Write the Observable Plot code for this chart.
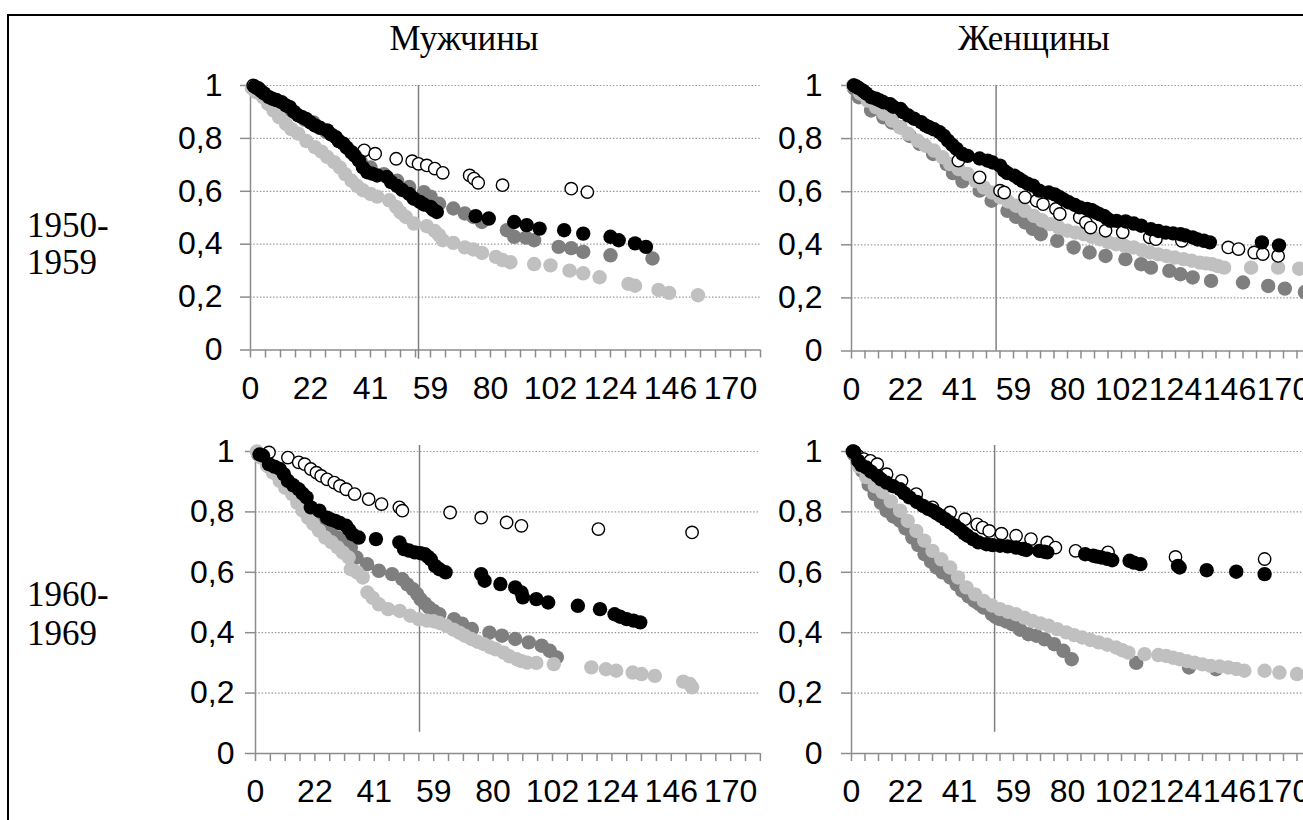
<!DOCTYPE html>
<html>
<head>
<meta charset="utf-8">
<script src="https://cdn.jsdelivr.net/npm/d3@7"></script>
<script src="https://cdn.jsdelivr.net/npm/@observablehq/plot@0.6"></script>
<style>
  html, body { margin: 0; padding: 0; background: #fff; }
  body { width: 1303px; height: 820px; overflow: hidden; position: relative; }
  .frame { position: absolute; left: 7px; top: 14px; width: 1400px; height: 900px;
           border-left: 2px solid #000; border-top: 2px solid #000; }
  .serif { position: absolute; font-family: "Liberation Serif", "Times New Roman", serif;
           font-size: 35px; color: #000; white-space: nowrap; }
  .panel { position: absolute; }
  .panel svg { max-width: none !important; display: block; }
</style>
</head>
<body>
<div class="frame"></div>
<script>
// ---------- axis categories ----------
const tickLabels = [0, 22, 41, 59, 80, 102, 124, 146, 170];
const xLast = 182;                       // value at the last minor tick of the category axis
const yTicks = [0, 0.2, 0.4, 0.6, 0.8, 1];

const columnTitles = ["Мужчины", "Женщины"];
const rowTitles = [["1950-", "1959"], ["1960-", "1969"]];

// ---------- data: [month, share] ----------
// Men 1950-1959
const m50Black = [[1.5,0.996],[2.5,0.99],[3.8,0.98],[5,0.97],[6.8,0.956],[8,0.95],[9.5,0.945],[11.4,0.937],[13,0.925],[14.4,0.918],[16,0.9],[17.5,0.887],[19,0.88],[20.4,0.874],[22,0.86],[23.4,0.849],[25,0.84],[27.3,0.83],[28.5,0.815],[30,0.805],[31,0.79],[32.4,0.78],[33.5,0.765],[35,0.748],[36,0.735],[37.3,0.717],[38.6,0.69],[40,0.672],[41.5,0.667],[43,0.66],[45.9,0.654],[47.2,0.635],[49,0.62],[50.5,0.605],[52.6,0.59],[54,0.572],[55.8,0.56],[57,0.55],[59,0.541],[60,0.53],[61.2,0.522],[74.8,0.506],[79.4,0.497],[88.7,0.484],[93.3,0.472],[98,0.459],[107,0.453],[114,0.44],[124,0.428],[127,0.415],[133,0.403],[137,0.39]];
const m50Open = [[1,1],[3,0.99],[39,0.755],[42.4,0.742],[48.7,0.723],[53.5,0.714],[55.4,0.704],[57.9,0.698],[60.5,0.686],[63.3,0.67],[72.7,0.66],[74.2,0.648],[75.7,0.632],[84.4,0.623],[109.6,0.61],[115.5,0.597]];
const m50Dark = [[1,0.99],[5,0.965],[10,0.94],[15,0.905],[20,0.87],[23,0.86],[27,0.825],[31,0.79],[35,0.745],[38,0.71],[41,0.69],[45,0.665],[49,0.64],[52.6,0.616],[57,0.597],[59,0.58],[62,0.553],[67,0.535],[71,0.516],[74,0.503],[77,0.484],[86,0.453],[88.7,0.428],[93,0.425],[96,0.415],[105,0.39],[109.6,0.385],[114,0.371],[124,0.358],[139.4,0.346]];
const m50Light = [[0.5,0.99],[2,0.975],[4.6,0.956],[6.5,0.93],[8.4,0.906],[10.5,0.88],[13,0.855],[15,0.835],[17.5,0.818],[20.5,0.79],[23.4,0.767],[25.5,0.75],[27.3,0.73],[29.5,0.71],[31.3,0.69],[33,0.665],[35,0.64],[36.8,0.62],[38.6,0.604],[41,0.59],[43,0.58],[46.6,0.566],[48.7,0.541],[50,0.52],[51.6,0.503],[54,0.478],[57.9,0.468],[60.5,0.45],[62,0.434],[63.3,0.415],[67,0.405],[71,0.388],[74,0.38],[77,0.367],[82,0.352],[84.4,0.34],[87.3,0.332],[96,0.325],[102,0.32],[109,0.3],[114,0.29],[120,0.275],[130.6,0.25],[133,0.243],[141.6,0.227],[145.5,0.216],[157,0.207]];

// Women 1950-1959
const f50Black = [[1,1],[2,0.996],[3,0.99],[4.7,0.98],[6,0.97],[8,0.956],[10,0.95],[11.5,0.944],[13,0.937],[15.7,0.93],[17,0.92],[19.9,0.912],[21,0.9],[23,0.887],[25,0.875],[27.5,0.862],[29,0.85],[30.3,0.843],[32,0.835],[34,0.824],[35.5,0.81],[37,0.792],[38.5,0.776],[40,0.761],[42,0.742],[43.7,0.735],[47.7,0.725],[50.4,0.717],[52,0.71],[54.5,0.698],[55.9,0.679],[57,0.67],[59.4,0.66],[61,0.65],[62.6,0.64],[64.5,0.63],[66.6,0.623],[69,0.604],[72.7,0.597],[75,0.59],[77,0.579],[78.5,0.57],[80.5,0.56],[83,0.55],[85,0.541],[88,0.535],[90,0.53],[91.5,0.522],[93,0.515],[94.8,0.509],[96,0.5],[97.5,0.49],[100,0.49],[103.7,0.488],[107,0.48],[110,0.472],[114,0.459],[117,0.452],[120,0.446],[123,0.443],[126,0.44],[128,0.435],[131,0.428],[133,0.42],[135.6,0.415],[138,0.409],[160.4,0.409],[168,0.398]];
const f50Open = [[1,1],[40.6,0.717],[47.7,0.654],[54.5,0.604],[55.9,0.597],[63.5,0.579],[68,0.566],[70.5,0.553],[75.5,0.535],[77,0.516],[85,0.503],[87.5,0.484],[89.4,0.465],[95.5,0.453],[102.5,0.447],[113.5,0.428],[116,0.421],[126.6,0.415],[145.5,0.39],[150,0.384],[157,0.371],[160.8,0.365],[167.6,0.358]];
const f50Dark = [[1,0.99],[3,0.956],[8,0.906],[13,0.88],[16.5,0.86],[19.9,0.843],[23.5,0.81],[27,0.78],[31.7,0.742],[36.5,0.704],[38.7,0.67],[42,0.639],[47.7,0.604],[51.7,0.566],[57,0.528],[60,0.505],[63.5,0.484],[66.5,0.46],[69.6,0.44],[76,0.415],[82.5,0.39],[89,0.371],[95.5,0.358],[103.6,0.346],[110,0.327],[114,0.314],[121.5,0.302],[126,0.289],[131,0.277],[138.5,0.264],[152,0.258],[163.2,0.245],[170.6,0.235],[179.5,0.222]];
const f50Light = [[0.5,1],[3.5,0.97],[6.6,0.943],[10,0.918],[13.2,0.893],[16.5,0.868],[19.8,0.843],[23,0.818],[26.3,0.792],[29,0.773],[32,0.755],[35,0.73],[37.7,0.704],[40.7,0.685],[43.7,0.667],[46.4,0.64],[49.1,0.616],[51.8,0.597],[54.5,0.579],[57.2,0.563],[60,0.547],[63.4,0.528],[66.9,0.509],[70,0.493],[73.2,0.478],[76.6,0.465],[80,0.453],[83.3,0.446],[86.6,0.44],[89.9,0.43],[93.2,0.421],[96.5,0.41],[99.8,0.402],[103.4,0.396],[107,0.39],[110.3,0.38],[113.6,0.371],[117,0.364],[120.2,0.358],[123.7,0.352],[127.3,0.346],[130.6,0.34],[133.9,0.333],[136.4,0.33],[138.9,0.327],[141.3,0.32],[143.8,0.314],[155.6,0.314],[167.6,0.314],[177,0.31]];

// Men 1960-1969
const m60Black = [[1.5,0.99],[2.8,0.986],[5,0.958],[7,0.95],[9,0.942],[10.5,0.925],[12,0.903],[14,0.888],[16,0.875],[17.5,0.86],[18.9,0.848],[20.5,0.815],[23.4,0.804],[25.9,0.781],[27,0.775],[28.5,0.77],[30,0.763],[32,0.754],[33,0.74],[34,0.726],[36,0.715],[41.5,0.71],[48.6,0.699],[50,0.677],[51.5,0.672],[53.3,0.666],[55,0.663],[56.3,0.66],[57.2,0.652],[58.1,0.643],[59.5,0.621],[61,0.61],[63.2,0.6],[75.8,0.594],[77,0.572],[82.7,0.561],[88.2,0.55],[90.5,0.533],[91,0.517],[96,0.511],[100.4,0.5],[111.4,0.489],[119.6,0.478],[125,0.461],[127,0.453],[129.5,0.445],[132,0.44],[134.5,0.434]];
const m60Open = [[5,0.997],[12,0.98],[16,0.964],[18.2,0.958],[20.5,0.942],[22.5,0.93],[24,0.919],[25.9,0.908],[28.2,0.897],[30,0.886],[32,0.875],[34.7,0.859],[39.2,0.842],[43.2,0.826],[48.6,0.815],[49.5,0.804],[64.8,0.798],[75.8,0.781],[85,0.765],[90.5,0.754],[119,0.743],[154.4,0.732]];
const m60Dark = [[1,0.99],[5,0.95],[9,0.91],[13.6,0.87],[16.5,0.84],[19.8,0.804],[22.5,0.78],[25.3,0.76],[27,0.738],[29.2,0.715],[31.5,0.698],[33.5,0.682],[35.3,0.649],[38.7,0.627],[42.4,0.605],[46.4,0.594],[49.5,0.577],[51,0.56],[52.7,0.544],[54,0.528],[55,0.511],[56.3,0.497],[57.6,0.483],[59,0.472],[61,0.461],[66.2,0.445],[69,0.43],[72.5,0.412],[78.7,0.4],[83.3,0.39],[88.2,0.379],[93.2,0.368],[98,0.357],[101,0.34],[103.6,0.318]];
const m60Light = [[0.5,1],[2,0.98],[4.3,0.953],[6.5,0.93],[9,0.903],[11,0.88],[13.6,0.859],[15.5,0.83],[17.5,0.804],[19.5,0.78],[21.4,0.76],[23.3,0.738],[25.3,0.715],[27.3,0.7],[29.3,0.682],[31,0.665],[32.8,0.649],[33.5,0.61],[35.5,0.6],[37.3,0.583],[38.8,0.533],[40.5,0.515],[42.4,0.494],[45.2,0.478],[48.7,0.472],[51.9,0.456],[54.5,0.445],[57,0.44],[59,0.438],[61,0.432],[63.4,0.423],[66,0.41],[68.1,0.4],[70,0.39],[72.3,0.379],[74.5,0.37],[76.8,0.362],[79,0.352],[81,0.345],[83.9,0.334],[86,0.322],[88.8,0.312],[90.5,0.306],[92.6,0.301],[96,0.3],[102.5,0.296],[116.4,0.285],[121.8,0.279],[125.6,0.274],[131.7,0.268],[135,0.263],[139.9,0.257],[150.8,0.238],[153.5,0.23],[154.4,0.219]];

// Women 1960-1969
const f60Black = [[0.5,1],[1.1,0.997],[2.75,0.969],[4,0.955],[6,0.947],[8,0.933],[10.5,0.919],[12,0.908],[14.3,0.897],[17,0.885],[19.8,0.875],[21.5,0.862],[23.4,0.848],[26,0.833],[28.2,0.82],[30,0.81],[31.5,0.804],[33,0.795],[34.4,0.787],[36,0.776],[37.7,0.765],[39.5,0.754],[41,0.743],[42.5,0.73],[43.7,0.721],[45.5,0.71],[47.3,0.699],[50,0.693],[52,0.69],[54.5,0.688],[57,0.686],[60,0.682],[62.7,0.677],[64,0.674],[69,0.671],[71,0.668],[72.1,0.666],[87.2,0.66],[90.5,0.655],[92,0.652],[93.8,0.649],[96,0.645],[98.2,0.64],[105.3,0.638],[107,0.632],[109.7,0.627],[125,0.621],[125.7,0.616],[136.7,0.607],[149,0.602],[161.6,0.594]];
const f60Open = [[1,1],[2.75,0.985],[5,0.975],[7.7,0.969],[10.5,0.958],[14.3,0.925],[20.4,0.903],[25.8,0.859],[31.5,0.815],[37.7,0.798],[42.8,0.776],[46.9,0.759],[48.7,0.748],[50.9,0.737],[55,0.728],[60,0.721],[65.8,0.71],[72.1,0.699],[75.3,0.682],[83.3,0.671],[96.5,0.666],[124,0.651],[161.6,0.644]];
const f60Dark = [[1,0.99],[2.5,0.965],[4.4,0.936],[7,0.89],[9.4,0.859],[12,0.83],[14.3,0.804],[17,0.785],[19.8,0.77],[22,0.745],[24.4,0.715],[26.5,0.69],[28.7,0.66],[31,0.635],[32.9,0.616],[35,0.6],[37.7,0.583],[40,0.56],[41.9,0.539],[44,0.52],[46,0.505],[47.5,0.495],[49.1,0.483],[51.8,0.461],[53,0.452],[54.5,0.445],[56.5,0.437],[58.6,0.428],[61.6,0.41],[64.8,0.395],[67.9,0.39],[71.1,0.378],[74.8,0.362],[78.4,0.34],[81.7,0.312],[108,0.3],[129.5,0.285],[140.5,0.279]];
const f60Light = [[0.5,1],[3,0.95],[6,0.915],[9.5,0.885],[12.7,0.865],[16,0.835],[19.8,0.804],[22.8,0.77],[25.8,0.737],[28.6,0.705],[31.5,0.671],[34.6,0.643],[37.7,0.616],[40.5,0.583],[43.3,0.55],[46.2,0.527],[49.1,0.505],[51.8,0.49],[54.5,0.478],[57.2,0.469],[60,0.461],[63.2,0.45],[66.4,0.439],[69.5,0.431],[72.7,0.423],[76,0.412],[79.5,0.401],[82.7,0.392],[86,0.384],[89.3,0.376],[92.7,0.368],[96.2,0.36],[99.8,0.351],[102.3,0.342],[104.8,0.334],[111.4,0.329],[117,0.326],[120.2,0.323],[123,0.317],[125.7,0.312],[128.7,0.306],[131.7,0.301],[135,0.295],[138.3,0.29],[142,0.288],[145.5,0.285],[149,0.28],[152.6,0.274],[161.6,0.274],[168.2,0.268],[176,0.263]];

// vertical reference line (month) per panel
const refMonths = [55.4, 53.2, 54.7, 52.7];

// ---------- category-axis helpers ----------
const knots = [...tickLabels, xLast];
const knotIdx = [0, 4, 8, 12, 16, 20, 24, 28, 32, 34];
const idxToVal = d3.scaleLinear().domain(knotIdx).range(knots);
const minorTicks = d3.range(0, 35).map(i => (i % 4 === 0 && i <= 32) ? tickLabels[i / 4] : idxToVal(i));

const layout = [
  {left: 140,   top: 65,  tw: 15,    ph: 264.5, ygap: 28, xpad: 26.5, ref: [1, -0.035]},
  {left: 740.7, top: 65,  tw: 13.5,  ph: 265.5, ygap: 29, xpad: 26.5, ref: [1, 0]},
  {left: 145,   top: 431, tw: 14.85, ph: 302,   ygap: 21, xpad: 25.5, ref: [1.02, 0.07]},
  {left: 741,   top: 431, tw: 13.5,  ph: 302,   ygap: 29, xpad: 25.5, ref: [1.02, 0.07]}
];
const seriesSets = [
  [m50Dark, m50Light, m50Open, m50Black],
  [f50Dark, f50Light, f50Open, f50Black],
  [m60Dark, m60Light, m60Open, m60Black],
  [f60Dark, f60Light, f60Open, f60Black]
];

const ML = 110, MT = 20, MB = 60, MR = 10;
const gray = "#8c8c8c";
const FS = 32;

layout.forEach((L, k) => {
  const [dark, light, open, black] = seriesSets[k];
  const width = ML + 34 * L.tw + MR;
  const height = MT + L.ph + MB;
  const range = knotIdx.map(i => ML + i * L.tw);
  const px = d => d[0], py = d => d[1];
  const chart = Plot.plot({
    width, height,
    marginLeft: ML, marginRight: MR, marginTop: MT, marginBottom: MB,
    style: {fontFamily: "'Liberation Sans', Arial, sans-serif", fontSize: FS + "px", color: "#000", background: "transparent", overflow: "visible", maxWidth: "none"},
    x: {type: "linear", domain: knots, range},
    y: {type: "linear", domain: [0, 1]},
    marks: [
      Plot.ruleY(yTicks.filter(v => v > 0), {stroke: "#9a9a9a", strokeWidth: 1.2, strokeDasharray: "1.5 1.8"}),
      Plot.axisY({ticks: yTicks, tickSize: 10, stroke: gray, strokeWidth: 1.5, tickFormat: () => "", label: null}),
      Plot.axisY({ticks: yTicks, tickSize: 0, tickPadding: L.ygap, fontSize: FS, tickFormat: d => String(d).replace(".", ","), label: null}),
      Plot.axisX({ticks: minorTicks, tickSize: 8, stroke: gray, strokeWidth: 1.5, tickFormat: () => "", label: null}),
      Plot.axisX({ticks: tickLabels, tickSize: 0, tickPadding: L.xpad, fontSize: FS, tickFormat: d => String(d), label: null}),
      Plot.ruleX([0], {stroke: gray, strokeWidth: 1.5}),
      Plot.ruleY([0], {stroke: gray, strokeWidth: 1.5}),
      Plot.ruleX([refMonths[k]], {y1: L.ref[0], y2: L.ref[1], stroke: "#808080", strokeWidth: 1.5}),
      Plot.dot(dark, {x: px, y: py, r: 7.2, fill: "#7f7f7f"}),
      Plot.dot(light, {x: px, y: py, r: 7.2, fill: "#c0c0c0"}),
      Plot.dot(open, {x: px, y: py, r: 6.2, fill: "#fff", stroke: "#000", strokeWidth: 1.4}),
      Plot.dot(black, {x: px, y: py, r: 7.2, fill: "#000"})
    ]
  });
  const holder = document.createElement("div");
  holder.className = "panel";
  holder.style.left = L.left + "px";
  holder.style.top = L.top + "px";
  holder.style.width = width + "px";
  holder.style.height = height + "px";
  holder.appendChild(chart);
  document.body.appendChild(holder);
});

// ---------- titles ----------
function serifText(str, x, baseline, anchor) {
  const el = document.createElement("div");
  el.className = "serif";
  el.style.lineHeight = "35px";
  el.textContent = str;
  el.style.top = (baseline - 29.3) + "px";
  el.style.left = x + "px";
  if (anchor === "middle") el.style.transform = "translateX(-50%)";
  document.body.appendChild(el);
}
serifText(columnTitles[0], 464, 50, "middle");
serifText(columnTitles[1], 1034, 50, "middle");
serifText(rowTitles[0][0], 27, 237);
serifText(rowTitles[0][1], 27, 274);
serifText(rowTitles[1][0], 27, 606);
serifText(rowTitles[1][1], 27, 645);
</script>
</body>
</html>
